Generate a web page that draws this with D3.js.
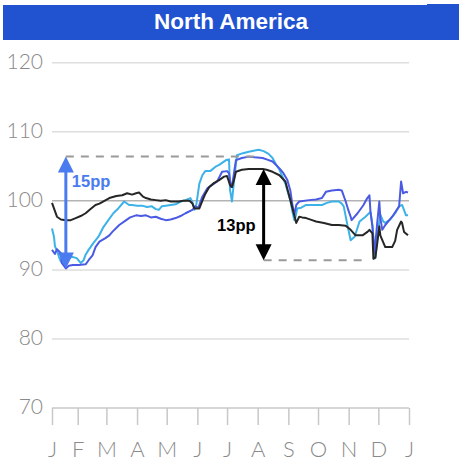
<!DOCTYPE html>
<html>
<head>
<meta charset="utf-8">
<script src="https://cdn.jsdelivr.net/npm/d3@7"></script>
<style>
  html, body { margin: 0; padding: 0; background: #fff; }
  svg { display: block; }
</style>
</head>
<body>
<svg id="chart" width="459" height="461"></svg>
<script>
// Index values by day of year (day 1 = 1 Jan), three regional series
const title = "North America";
const monthLabels = ["J", "F", "M", "A", "M", "J", "J", "A", "S", "O", "N", "D", "J"];
const yTicks = [70, 80, 90, 100, 110, 120];

const seriesBlack = [
  [6,99.7],[11,97.7],[15,97.3],[20,97.2],[25,97.2],[30,97.5],[35,97.8],[40,98.2],[45,98.8],
  [50,99.4],[54,99.6],[59,100.0],[64,100.4],[71,100.7],[77,100.8],[82,101.1],[87,100.9],
  [91,101.1],[94,101.2],[98,100.6],[101,100.4],[106,100.2],[111,100.1],[116,100.0],[121,100.1],
  [126,99.9],[134,99.9],[139,100.0],[145,100.0],[148,99.6],[150,98.9],[155,98.9],[158,100.0],
  [161,101.0],[165,102.0],[170,102.6],[175,103.0],[180,103.5],[183,103.6],[186,102.3],[188,102.0],
  [190,103.0],[192,104.2],[198,104.5],[205,104.6],[219,104.6],[223,104.5],[229,104.2],[236,103.7],
  [242,102.8],[247,100.1],[251,97.9],[253,96.8],[256,97.7],[259,97.6],[263,97.5],[269,97.2],
  [273,97.0],[281,96.8],[289,96.5],[296,96.5],[303,96.4],[308,95.8],[313,95.0],[320,95.0],
  [325,95.5],[327,95.8],[330,95.3],[331,91.6],[333,91.8],[335,94.0],[337,96.3],[338,95.0],
  [340,94.3],[343,93.3],[350,93.3],[353,94.2],[355,95.8],[359,97.0],[360,96.8],[362,95.5],[366,95.0]
];

const seriesBlue = [
  [6,92.9],[9,92.3],[11,93.0],[15,92.4],[16,91.0],[20,90.2],[23,90.6],[27,90.7],[33,90.7],
  [40,90.8],[43,91.4],[47,92.1],[50,93.3],[54,94.1],[60,94.6],[64,95.0],[67,95.5],[74,96.5],
  [81,97.2],[85,97.6],[91,97.9],[96,97.8],[101,97.9],[106,97.6],[111,97.7],[116,97.4],[121,97.2],
  [126,97.3],[131,97.5],[136,97.8],[141,98.2],[148,98.7],[151,99.2],[154,99.0],[158,100.6],
  [163,101.8],[168,102.3],[173,102.8],[178,104.2],[183,104.3],[185,104.0],[187,102.0],[188,102.0],
  [190,104.0],[192,105.9],[198,106.2],[205,106.4],[211,106.3],[219,106.2],[223,106.0],[229,105.7],
  [236,104.7],[240,104.0],[244,103.0],[247,101.5],[249,99.5],[251,98.0],[253,99.4],[256,99.9],
  [266,100.1],[273,100.2],[279,100.4],[283,101.3],[289,101.5],[296,101.6],[299,101.5],[303,99.9],
  [306,98.5],[308,97.7],[309,97.2],[315,98.2],[321,99.4],[324,100.2],[327,100.8],[328,98.5],
  [330,96.3],[332,92.4],[333,93.8],[335,97.0],[337,99.9],[338,97.5],[340,95.8],[343,96.5],
  [350,97.7],[357,99.2],[359,102.8],[361,101.1],[364,101.3],[366,101.2]
];

const seriesCyan = [
  [6,96.0],[8,94.8],[9,93.4],[11,92.8],[13,91.9],[15,91.2],[18,90.7],[19,91.0],[21,91.4],
  [26,91.9],[31,91.7],[35,91.0],[38,91.4],[40,92.2],[43,92.9],[48,93.9],[53,94.8],[58,96.2],
  [63,97.2],[68,98.2],[73,98.9],[79,99.9],[84,99.4],[87,99.4],[92,99.3],[97,99.3],[102,99.1],
  [107,99.2],[111,98.8],[114,98.7],[117,99.2],[121,99.3],[126,99.4],[131,99.5],[136,99.9],
  [141,100.1],[146,100.4],[148,99.8],[150,98.7],[152,99.5],[155,102.5],[158,103.7],[161,104.3],
  [166,104.3],[172,105.0],[175,105.2],[182,105.9],[185,106.0],[186,101.6],[188,99.9],[190,102.8],
  [193,106.6],[199,106.9],[205,107.1],[211,107.3],[215,107.4],[220,107.2],[225,106.8],[229,106.2],
  [232,105.4],[236,104.5],[242,102.5],[245,101.0],[247,100.1],[249,98.5],[251,97.2],[252,97.5],
  [254,98.9],[258,99.0],[263,99.4],[271,99.4],[279,99.4],[284,99.7],[289,99.9],[296,99.9],
  [299,99.6],[301,99.2],[305,96.3],[308,94.3],[312,94.8],[317,97.0],[323,97.7],[328,98.4],
  [330,96.5],[332,93.0],[333,91.7],[335,94.8],[338,98.0],[341,97.0],[343,96.8],[348,97.3],
  [353,98.2],[357,99.2],[360,99.4],[364,97.9],[366,97.9]
];

// Range annotations: [day, top value, bottom value, label]
const gapLeft = [20, 106.4, 90.2, "15pp"];
const gapRight = [220, 104.6, 91.4, "13pp"];
// Dashed guide ends (day)
const guideTopEnd = 212;
const guideBottomEnd = 325;

const year0 = new Date(2020, 0, 1);
const toDate = d => d3.timeDay.offset(year0, d - 1);

const svg = d3.select("#chart");

// Title band
svg.append("rect").attr("x", 3).attr("y", 5).attr("width", 428).attr("height", 35).attr("fill", "#2152d0");
svg.append("rect").attr("x", 427).attr("y", 4).attr("width", 32).attr("height", 36).attr("fill", "#2152d0");
svg.append("text")
  .attr("x", 231).attr("y", 28.5)
  .attr("text-anchor", "middle")
  .attr("fill", "#fff")
  .attr("font-family", "Liberation Sans, Arial, sans-serif")
  .attr("font-weight", "bold")
  .attr("font-size", 22.5)
  .text(title);

const x = d3.scaleTime()
  .domain([toDate(6), toDate(367)])
  .range([52, 409]);
const y = d3.scaleLinear().domain([70, 120]).range([408, 62.7]);

// Gridlines
const grid = svg.append("g");
grid.selectAll("line").data(yTicks.filter(v => v !== 70)).join("line")
  .attr("x1", 52).attr("x2", 409)
  .attr("y1", d => y(d)).attr("y2", d => y(d))
  .attr("stroke", d => d === 100 ? "#b3b3b3" : "#dedede")
  .attr("stroke-width", 1.5);

// Y labels
svg.append("g").selectAll("text").data(yTicks).join("text")
  .attr("x", 43).attr("y", d => y(d) - 1)
  .attr("dy", "0.35em")
  .attr("text-anchor", "end")
  .attr("fill", "#8a8a8a")
  .attr("font-family", "Lato, 'Open Sans', sans-serif")
  .attr("font-weight", 300)
  .attr("font-size", 21)
  .text(d => d);

// Bottom axis with month ticks
const tickDates = [x.domain()[0]].concat(d3.range(1, 13).map(m => new Date(2020, m, 1)));
const xAxis = d3.axisBottom(x)
  .tickValues(tickDates)
  .tickSize(17)
  .tickPadding(16)
  .tickFormat((d, i) => monthLabels[i]);
const gx = svg.append("g").attr("transform", `translate(0,${y(70)})`).call(xAxis);
gx.select(".domain").attr("stroke", "#c8c8c8").attr("stroke-width", 1.5).attr("d", `M52,0H409`);
gx.selectAll(".tick line").attr("stroke", "#c8c8c8").attr("stroke-width", 1.5);
gx.selectAll(".tick text")
  .attr("fill", "#8a8a8a")
  .attr("font-family", "Lato, 'Open Sans', sans-serif")
  .attr("font-weight", 300)
  .attr("font-size", 22)
  .attr("dy", "0.71em");

// Series lines
const line = d3.line().x(d => x(toDate(d[0]))).y(d => y(d[1]));
const series = [
  { data: seriesCyan, color: "#3cb2e8" },
  { data: seriesBlue, color: "#4b5ae3" },
  { data: seriesBlack, color: "#262626" }
];
svg.append("g").selectAll("path").data(series).join("path")
  .attr("d", d => line(d.data))
  .attr("fill", "none")
  .attr("stroke", d => d.color)
  .attr("stroke-width", 2)
  .attr("stroke-linejoin", "round");

// Dashed guides
const dashed = svg.append("g")
  .attr("stroke", "#9a9a9a").attr("stroke-width", 2).attr("stroke-dasharray", "8,7");
dashed.append("line")
  .attr("x1", x(toDate(gapLeft[0]))).attr("x2", x(toDate(guideTopEnd)))
  .attr("y1", y(gapLeft[1])).attr("y2", y(gapLeft[1]));
dashed.append("line")
  .attr("x1", x(toDate(gapRight[0]))).attr("x2", x(toDate(guideBottomEnd)))
  .attr("y1", y(gapRight[2])).attr("y2", y(gapRight[2]));

// Double-headed range arrows
function rangeArrow(spec, color, labelX, labelY) {
  const [day, top, bottom, label] = spec;
  const ax = x(toDate(day));
  const yt = y(top), yb = y(bottom);
  const hw = 8, hh = 16;
  const g = svg.append("g");
  g.append("line").attr("x1", ax).attr("x2", ax).attr("y1", yt + hh - 2).attr("y2", yb - hh + 2)
    .attr("stroke", color).attr("stroke-width", 3);
  g.append("path").attr("d", `M${ax},${yt}L${ax - hw},${yt + hh}L${ax + hw},${yt + hh}Z`).attr("fill", color);
  g.append("path").attr("d", `M${ax},${yb}L${ax - hw},${yb - hh}L${ax + hw},${yb - hh}Z`).attr("fill", color);
  g.append("text")
    .attr("x", labelX(ax)).attr("y", labelY(yt, yb))
    .attr("fill", color)
    .attr("font-family", "Liberation Sans, Arial, sans-serif")
    .attr("font-weight", "bold")
    .attr("font-size", 16.5)
    .attr("text-anchor", labelX.anchor)
    .text(label);
}
const leftX = ax => ax + 6; leftX.anchor = "start";
const rightX = ax => ax - 8; rightX.anchor = "end";
rangeArrow(gapLeft, "#4a7cf0", leftX, (t, b) => t + 30);
rangeArrow(gapRight, "#000", rightX, (t, b) => t + 62);
</script>
</body>
</html>
